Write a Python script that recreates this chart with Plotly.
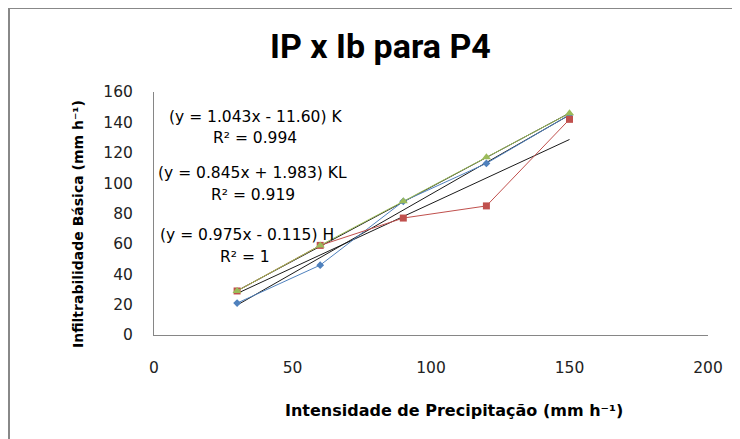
import plotly.graph_objects as go
import numpy as np

# ---- data ----
x_vals = [30, 60, 90, 120, 150]
k_vals = [21, 46, 88, 113, 145]     # blue diamonds
kl_vals = [29, 59, 77, 85, 142]     # red squares
h_vals = [29, 59, 88, 117, 146]     # green triangles

trend_names = ["K", "KL", "H"]
trend_slopes = [1.043, 0.845, 0.975]
trend_intercepts = [-11.60, 1.983, -0.115]
trend_r2 = ["0.994", "0.919", "1"]
trend_eq_text = ["(y = 1.043x - 11.60) K", "(y = 0.845x + 1.983) KL", "(y = 0.975x - 0.115) H"]

x_ticks = [0, 50, 100, 150, 200]
y_ticks = [0, 20, 40, 60, 80, 100, 120, 140, 160]

title_text = "IP x Ib para P4"
x_title = "Intensidade de Precipitação (mm h⁻¹)"
y_title = "Infiltrabilidade Básica (mm h⁻¹)"

# ---- layout geometry (pixels, page coords; page body has 8px offset) ----
OFF = 8
W, H = 740 - OFF, 439 - OFF
L, R, T, B = 154 - OFF, 32, 92 - OFF, 104
PW, PH = W - L - R, H - T - B


def px(xp):
    return (xp - OFF - L) / PW


def py(yp):
    return (H - B - (yp - OFF)) / PH


FONT = "DejaVu Sans"
fig = go.Figure()

# trend lines
xt = np.array([x_vals[0], x_vals[-1]], dtype=float)
for m, c in zip(trend_slopes, trend_intercepts):
    fig.add_trace(go.Scatter(x=xt, y=m * xt + c, mode="lines",
                             line=dict(color="#1a1a1a", width=1),
                             showlegend=False, hoverinfo="skip"))

fig.add_trace(go.Scatter(x=x_vals, y=k_vals, mode="lines+markers",
                         line=dict(color="#4F81BD", width=1),
                         marker=dict(symbol="diamond", size=6, color="#4F81BD"),
                         showlegend=False))
fig.add_trace(go.Scatter(x=x_vals, y=kl_vals, mode="lines+markers",
                         line=dict(color="#C0504D", width=1),
                         marker=dict(symbol="square", size=7, color="#C0504D"),
                         showlegend=False))
fig.add_trace(go.Scatter(x=x_vals, y=h_vals, mode="lines+markers",
                         line=dict(color="#9BBB59", width=1),
                         marker=dict(symbol="triangle-up", size=8, color="#9BBB59"),
                         showlegend=False))

annotations = []
# title
annotations.append(dict(text="<b>" + title_text + "</b>", x=px(380), y=py(46),
                        xref="paper", yref="paper", showarrow=False,
                        font=dict(family="Roboto", size=34, color="#000000"),
                        xanchor="center", yanchor="middle"))
# axis titles
annotations.append(dict(text="<b>" + x_title + "</b>", x=px(454), y=py(410),
                        xref="paper", yref="paper", showarrow=False,
                        font=dict(family=FONT, size=16, color="#000000"),
                        xanchor="center", yanchor="middle"))
annotations.append(dict(text="<b>" + y_title + "</b>", x=px(78), y=py(224),
                        xref="paper", yref="paper", showarrow=False, textangle=-90,
                        font=dict(family=FONT, size=14, color="#000000"),
                        xanchor="center", yanchor="middle"))
# trend equations
eq_pos = [(255, 117), (252, 173), (247, 235)]
r2_pos = [(255, 138), (253, 195), (245, 257)]
for txt, r2, (ex, ey), (rx, ry) in zip(trend_eq_text, trend_r2, eq_pos, r2_pos):
    annotations.append(dict(text=txt, x=px(ex), y=py(ey), xref="paper", yref="paper",
                            showarrow=False, xanchor="center", yanchor="middle",
                            font=dict(family=FONT, size=15.5, color="#000000")))
    annotations.append(dict(text="R² = " + r2, x=px(rx), y=py(ry), xref="paper", yref="paper",
                            showarrow=False, xanchor="center", yanchor="middle",
                            font=dict(family=FONT, size=15.5, color="#000000")))

shapes = [
    dict(type="line", xref="paper", yref="paper", x0=px(9), x1=px(9), y0=py(8), y1=py(460),
         line=dict(color="#888888", width=2)),
    dict(type="line", xref="paper", yref="paper", x0=px(9), x1=px(760), y0=py(8), y1=py(8),
         line=dict(color="#888888", width=2)),
]

fig.update_layout(
    width=W, height=H,
    margin=dict(l=L, r=R, t=T, b=B),
    paper_bgcolor="white", plot_bgcolor="white",
    annotations=annotations, shapes=shapes,
    showlegend=False,
    xaxis=dict(range=[0, 200], tickvals=x_ticks, showgrid=False, zeroline=False,
               showline=True, linecolor="#868686", linewidth=1, ticks="",
               ticklabelstandoff=18,
               tickfont=dict(family=FONT, size=15.5, color="#222222")),
    yaxis=dict(range=[0, 160], tickvals=y_ticks, showgrid=False, zeroline=False,
               showline=True, linecolor="#868686", linewidth=1, ticks="",
               ticklabelstandoff=17,
               tickfont=dict(family=FONT, size=15.5, color="#222222")),
)

fig.write_html("out.html")
